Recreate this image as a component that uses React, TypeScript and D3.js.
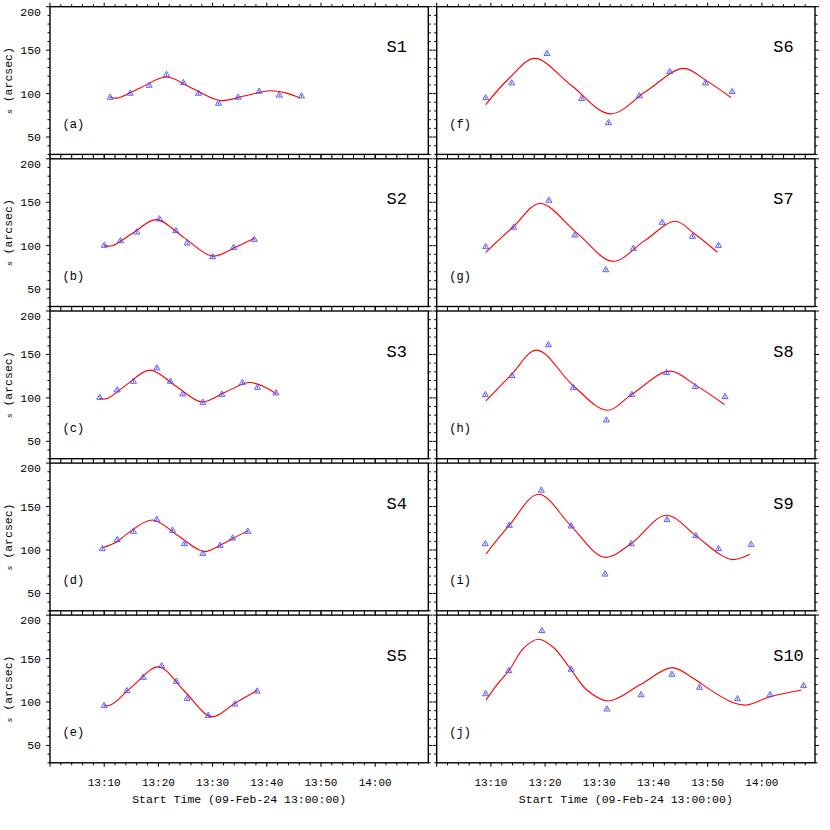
import * as d3 from 'd3';

// panel names and tags
const panelNames = ['S1', 'S2', 'S3', 'S4', 'S5', 'S6', 'S7', 'S8', 'S9', 'S10'];
const panelTags = ['(a)', '(b)', '(c)', '(d)', '(e)', '(f)', '(g)', '(h)', '(i)', '(j)'];

// axis ticks (x in minutes after 13:00:00)
const xTickValues = [10, 20, 30, 40, 50, 60];
const xTickLabels = ['13:10', '13:20', '13:30', '13:40', '13:50', '14:00'];
const yTickValues = [50, 100, 150, 200];

// measured positions: t = minutes after 13:00:00, s = arcsec
const obsT1 = [11.1, 14.8, 18.3, 21.5, 24.6, 27.4, 31.1, 34.7, 38.6, 42.3, 46.4];
const obsS1 = [95.5, 100.1, 109.3, 121.6, 112.3, 100.1, 88.6, 95.5, 102.4, 98, 97];
const obsT2 = [10.0, 13.0, 16.0, 20.2, 23.2, 25.3, 30.0, 33.9, 37.7];
const obsS2 = [100.1, 105.4, 115.5, 130.5, 117, 102.8, 87, 97.8, 107];
const obsT3 = [9.2, 12.4, 15.4, 19.7, 22.2, 24.5, 28.2, 31.7, 35.5, 38.3, 41.7];
const obsS3 = [100.3, 108.9, 118.8, 134.3, 118.8, 104.3, 94.6, 103.8, 117.3, 111.9, 105.4];
const obsT4 = [9.65, 12.4, 15.4, 19.7, 22.6, 24.8, 28.2, 31.4, 33.7, 36.5];
const obsS4 = [101.2, 111.6, 121.2, 135, 122.4, 107, 95.8, 105, 113.5, 121.2];
const obsT5 = [10.0, 14.2, 17.2, 20.6, 23.3, 25.3, 29.2, 34.1, 38.2];
const obsS5 = [95.8, 112.7, 128.1, 141.5, 123.5, 103.9, 84.3, 97.3, 112.3];
const obsT6 = [9.04, 13.84, 20.35, 26.75, 31.7, 37.4, 43.0, 49.6, 54.5];
const obsS6 = [95, 112, 145.8, 93.9, 66.2, 97.3, 125, 112, 102];
const obsT7 = [9.04, 14.2, 20.7, 25.5, 31.2, 36.3, 41.6, 47.2, 52.0];
const obsS7 = [98.5, 120.9, 152, 112, 72, 96.7, 126.6, 110.5, 100.1];
const obsT8 = [8.97, 13.9, 20.6, 25.2, 31.3, 36.0, 42.4, 47.7, 53.2];
const obsS8 = [103.5, 125.4, 160.8, 111.5, 74.3, 103.5, 128.8, 112.7, 101.2];
const obsT9 = [8.97, 13.4, 19.3, 24.8, 31.05, 35.9, 42.5, 47.8, 52.0, 58.0];
const obsS9 = [106.9, 128.1, 168.5, 127.3, 72, 106.9, 134.6, 116.2, 101.2, 106.2];
const obsT10 = [9.04, 13.3, 19.4, 24.8, 31.4, 37.7, 43.4, 48.5, 55.5, 61.5, 67.7];
const obsS10 = [109.2, 135.8, 181.9, 137.4, 91.6, 108.1, 131.6, 116.6, 103.5, 108.1, 118.5];

// fitted curves at ends, extrema and crossings
const fitT1 = [11.1, 12.6, 16.6, 21.5, 26.4, 31.4, 36.0, 40.6, 43.6, 46.1];
const fitS1 = [95.5, 95.0, 106.5, 119, 105.5, 92, 97.5, 103.2, 100.5, 95];
const fitT2 = [10.0, 11.5, 15.3, 19.6, 24.8, 30.0, 34.5, 37.7];
const fitS2 = [100.1, 100.0, 114.5, 130, 109, 88, 99, 108.5];
const fitT3 = [9.2, 10.6, 14.2, 18.45, 23.2, 28.0, 32.3, 36.6, 39.3, 41.7];
const fitS3 = [99.2, 99.3, 115.5, 132, 113.7, 95.4, 106.5, 117.7, 113.5, 104.8];
const fitT4 = [9.65, 12.4, 14.15, 18.9, 23.65, 28.4, 31.4, 33.8, 36.5];
const fitS4 = [102.5, 109.5, 118.3, 134.5, 116.3, 98.2, 105.5, 113.5, 122];
const fitT5 = [10.0, 11.2, 15.2, 20.0, 24.9, 29.8, 34.1, 38.2];
const fitS5 = [96.0, 96.5, 118, 140.4, 111.8, 83.2, 98.5, 113.3];
const fitT6 = [9.04, 13.5, 18.1, 25.0, 32.0, 38.7, 45.5, 49.6, 54.3];
const fitS6 = [87.4, 118.5, 140.5, 108.5, 76.6, 103, 129, 115.5, 95.5];
const fitT7 = [9.04, 14.1, 19.06, 25.8, 32.5, 38.2, 44.0, 47.5, 51.8];
const fitS7 = [92.4, 121.5, 148.6, 115, 82, 105, 128.1, 114, 92.4];
const fitT8 = [9.1, 13.8, 18.45, 25.2, 31.4, 36.0, 42.9, 47.7, 53.1];
const fitS8 = [96.5, 127, 155, 114, 85.8, 104, 130.8, 115, 92.3];
const fitT9 = [9.1, 13.4, 18.8, 24.8, 30.9, 35.9, 42.3, 47.8, 52.0, 54.6, 57.8];
const fitS9 = [95.4, 128.5, 164.2, 127.5, 91.6, 107.5, 140, 116.5, 96, 88.9, 95];
const fitT10 = [9.1, 11.1, 13.4, 16.0, 18.75, 21.5, 24.6, 27.7, 31.7, 37.6, 43.4, 47.3, 51.0, 54.7, 57.2, 61.5, 67.3];
const fitS10 = [102.3, 119.6, 136.8, 161.8, 172.2, 163, 138.8, 113.8, 101.2, 120, 139.5, 127.3, 111.9, 99.2, 96.5, 106.1, 113.8];

const obsT = [obsT1, obsT2, obsT3, obsT4, obsT5, obsT6, obsT7, obsT8, obsT9, obsT10];
const obsS = [obsS1, obsS2, obsS3, obsS4, obsS5, obsS6, obsS7, obsS8, obsS9, obsS10];
const fitT = [fitT1, fitT2, fitT3, fitT4, fitT5, fitT6, fitT7, fitT8, fitT9, fitT10];
const fitS = [fitS1, fitS2, fitS3, fitS4, fitS5, fitS6, fitS7, fitS8, fitS9, fitS10];

const colLeft = [50, 436.7];
const rowTop = [6.7, 158.8, 311, 463.1, 615.1];
const panelW = 378.3;
const panelH = 147.7;
const mono = "'Liberation Mono', 'DejaVu Sans Mono', monospace";

export default function App() {
  const x = d3.scaleLinear().domain([0, 69.8]).range([0, panelW]);
  const y = d3.scaleLinear().domain([30, 200]).range([panelH, 0]);
  const line = d3.line<number[]>()
    .x(d => x(d[0]))
    .y(d => y(d[1]))
    .curve(d3.curveCatmullRom.alpha(0.5));

  const xMinor = d3.range(0, 69.8, 2).filter(v => v % 10 !== 0);
  const xMajor = d3.range(0, 69.8, 10);
  const yMinor = d3.range(30, 201, 10).filter(v => v % 50 !== 0);
  const r = 3.5;
  const tri = `M0,${-r}L${r * 0.866},${r * 0.5}L${-r * 0.866},${r * 0.5}Z`;

  return (
    <svg width={830} height={830} style={{ position: 'absolute', left: 0, top: 0, background: '#fff' }}>
      {panelNames.map((name, i) => {
        const col = i < 5 ? 0 : 1;
        const row = i % 5;
        const left = colLeft[col];
        const top = rowTop[row];
        const pts = obsT[i].map((t, k) => [t, obsS[i][k]]);
        const fit = fitT[i].map((t, k) => [t, fitS[i][k]]);
        return (
          <g key={name} transform={`translate(${left},${top})`}>
            <g stroke="#000" strokeWidth={1}>
              {xMajor.map(v => (
                <g key={'xM' + v}>
                  <line x1={x(v)} x2={x(v)} y1={0} y2={-4} />
                  <line x1={x(v)} x2={x(v)} y1={panelH} y2={panelH + 4} />
                </g>
              ))}
              {xMinor.map(v => (
                <g key={'xm' + v}>
                  <line x1={x(v)} x2={x(v)} y1={0} y2={-2.5} />
                  <line x1={x(v)} x2={x(v)} y1={panelH} y2={panelH + 2.5} />
                </g>
              ))}
              {yTickValues.map(v => (
                <g key={'yM' + v}>
                  <line x1={0} x2={-4} y1={y(v)} y2={y(v)} />
                  <line x1={panelW} x2={panelW + 4} y1={y(v)} y2={y(v)} />
                </g>
              ))}
              {yMinor.map(v => (
                <g key={'ym' + v}>
                  <line x1={0} x2={-2.5} y1={y(v)} y2={y(v)} />
                  <line x1={panelW} x2={panelW + 2.5} y1={y(v)} y2={y(v)} />
                </g>
              ))}
            </g>
            <rect x={0} y={0} width={panelW} height={panelH} fill="none" stroke="#000" strokeWidth={1.4} />
            <path d={line(fit) || ''} fill="none" stroke="#ff0000" strokeWidth={1.1} />
            {pts.map((p, k) => (
              <g key={k} transform={`translate(${x(p[0])},${y(p[1])})`} stroke="#4d4dff" fill="none" strokeWidth={0.9}>
                <path d={tri} />
                <line x1={0} x2={0} y1={-1.5} y2={1.2} />
              </g>
            ))}
            <text x={336.5} y={45.5} fontFamily={mono} fontSize={17} fill="#000">{name}</text>
            <text x={12.6} y={121} fontFamily={mono} fontSize={12} fill="#000">{panelTags[i]}</text>
            {col === 0 && (
              <g>
                {yTickValues.map(v => (
                  <text key={v} x={-9} y={y(v) + 4 + (v === 200 ? 5 : 0)} textAnchor="end"
                    fontFamily={mono} fontSize={11.5} fill="#000">{v}</text>
                ))}
                <text transform={`translate(-42.5,${panelH / 2}) rotate(-90)`} textAnchor="middle" dy="0.35em"
                  fontFamily={mono} fontSize={11.5} fill="#000">
                  <tspan fontStyle="italic" fontSize={8}>s</tspan>{' (arcsec)'}
                </text>
              </g>
            )}
            {row === 4 && (
              <g>
                {xTickValues.map((v, k) => (
                  <text key={v} x={x(v)} y={panelH + 23.7} textAnchor="middle"
                    fontFamily={mono} fontSize={11} fill="#000">{xTickLabels[k]}</text>
                ))}
                <text x={panelW / 2} y={panelH + 40.5} textAnchor="middle"
                  fontFamily={mono} fontSize={11.5} fill="#000">Start Time (09-Feb-24 13:00:00)</text>
              </g>
            )}
          </g>
        );
      })}
    </svg>
  );
}
